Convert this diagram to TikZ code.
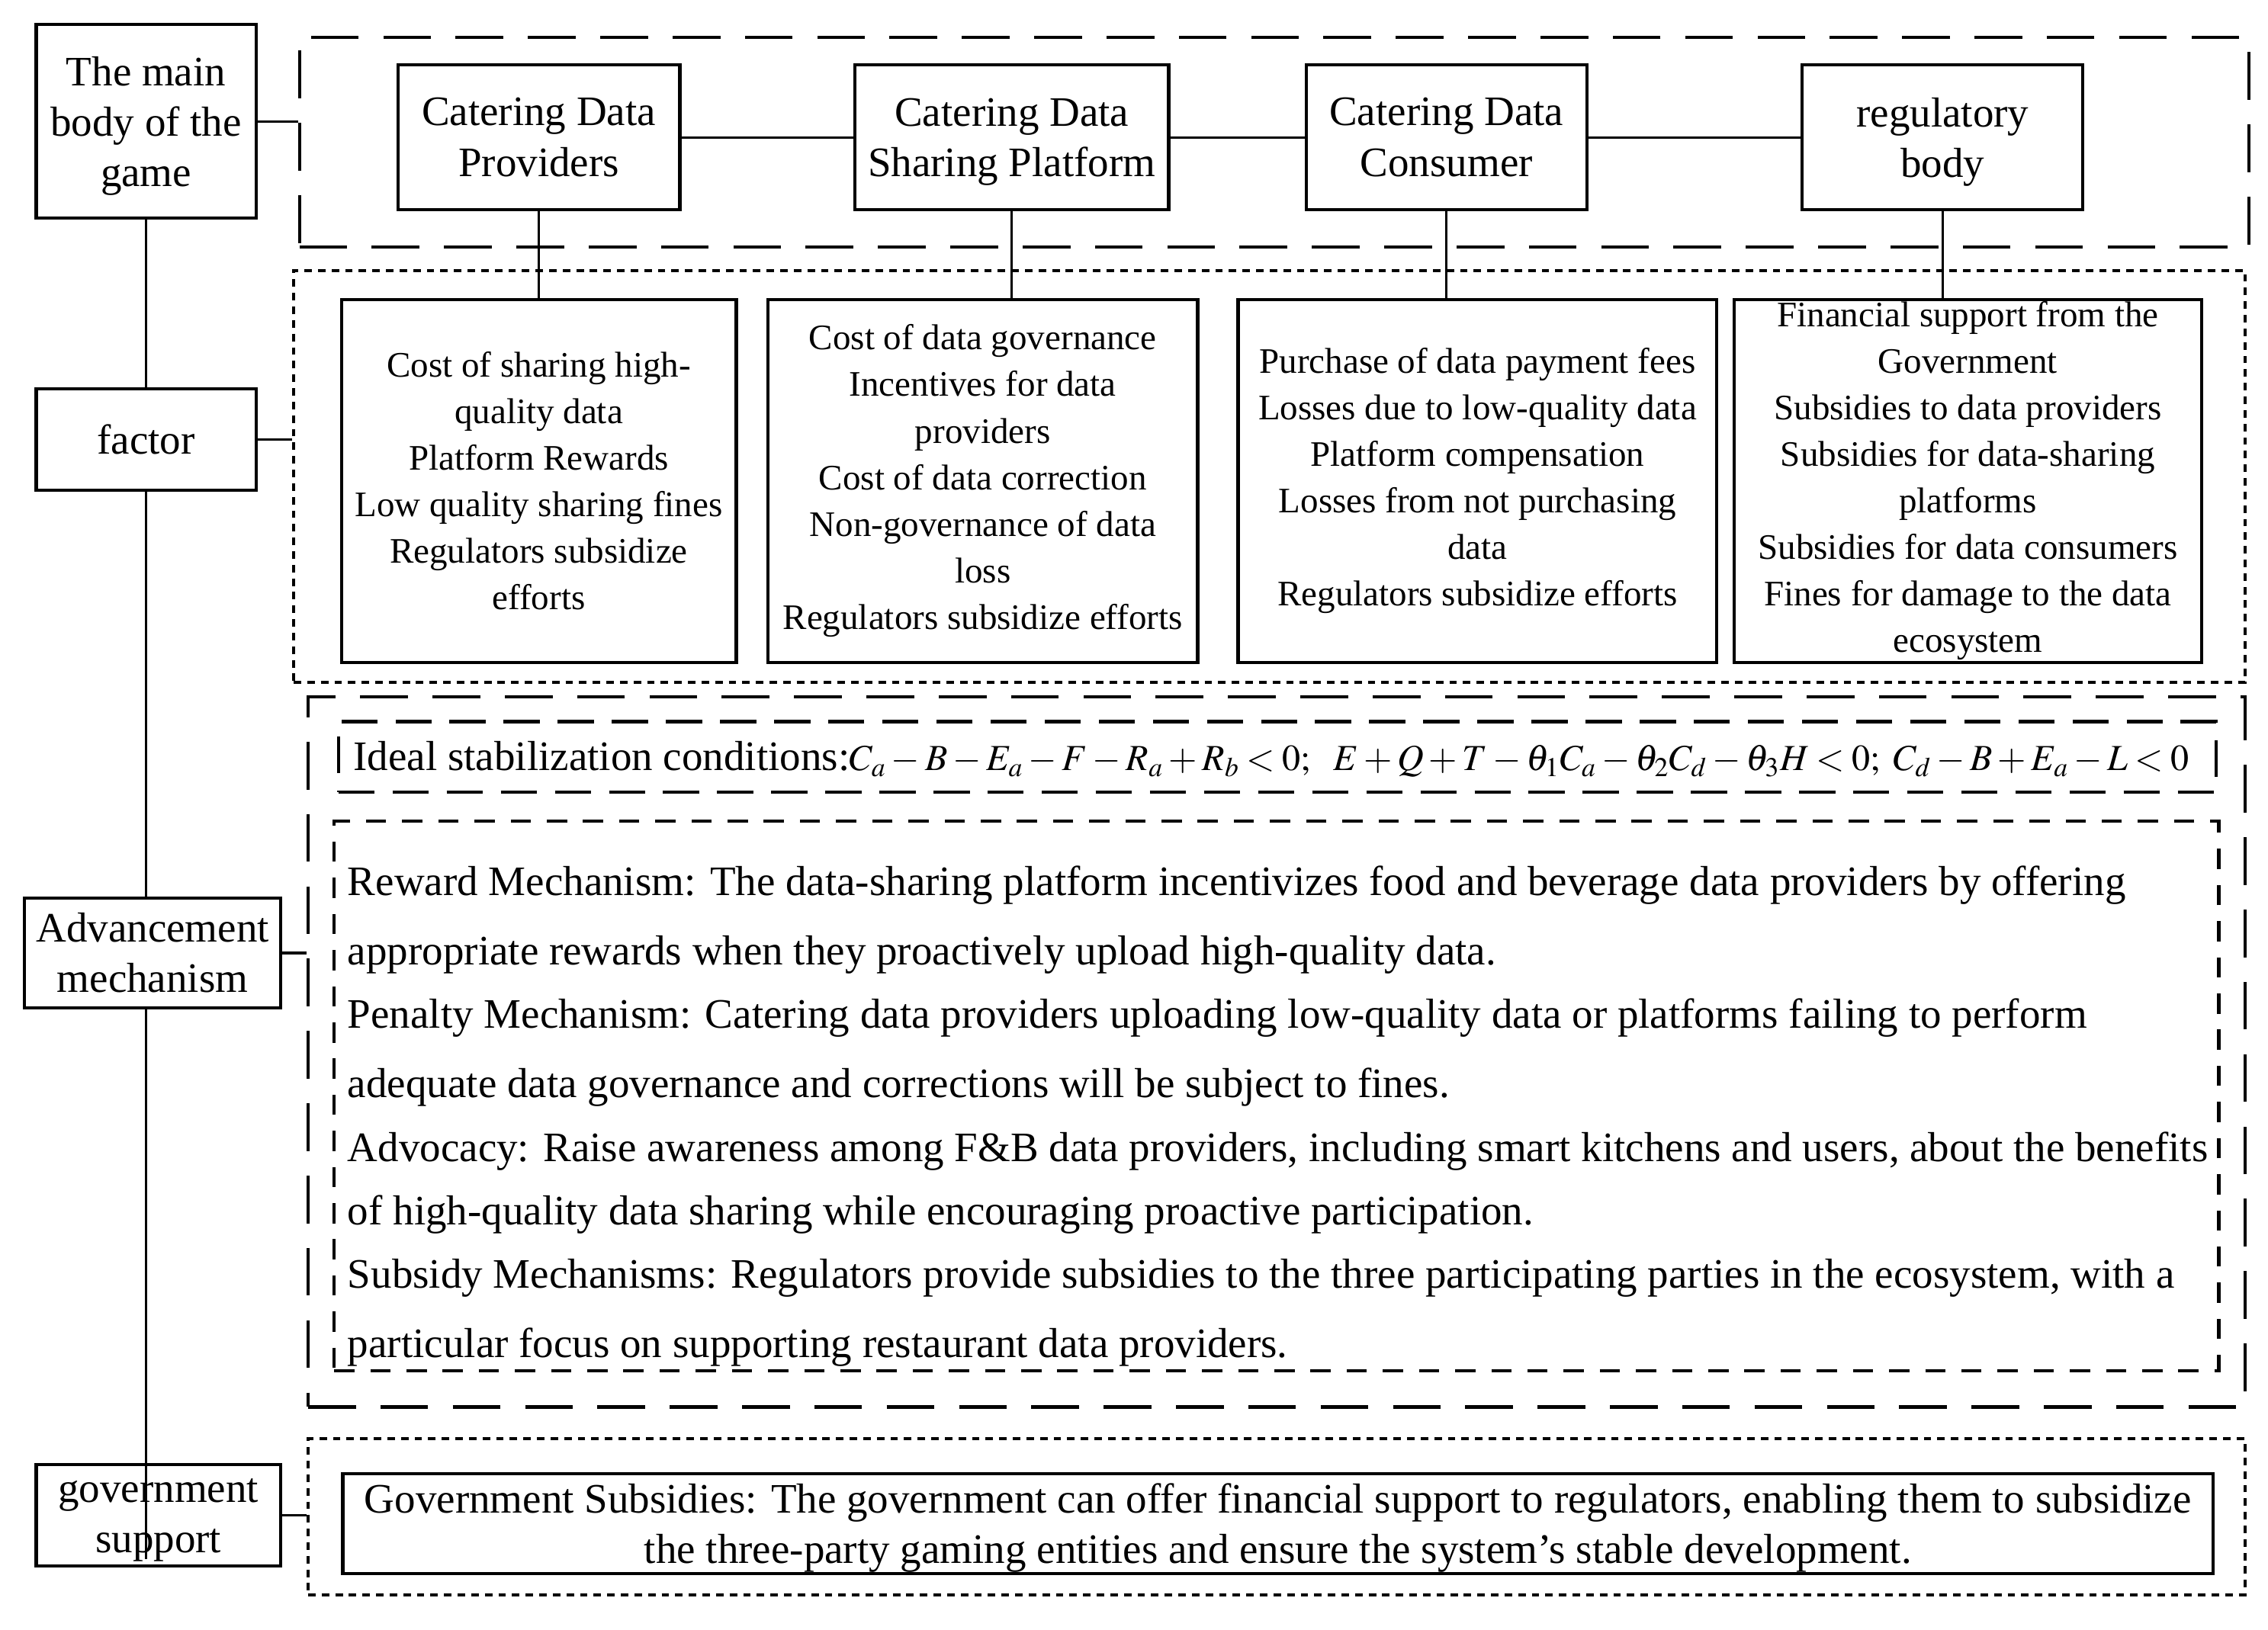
\documentclass[tikz,border=0pt]{standalone}
\usepackage{graphicx}
\usepackage{mathptmx}
\usepackage{fontspec}
\setmainfont{Liberation Serif}
\newcommand\fmain{\fontsize{14.5pt}{17.5pt}\selectfont}
\newcommand\fsmall{\fontsize{12.4pt}{16.1pt}\selectfont}
\newcommand\fmech{\fontsize{14.5pt}{18pt}\selectfont}
\newcommand\fform{\fontsize{13.8pt}{17pt}\selectfont}
\begin{document}
\begin{tikzpicture}[x=0.5pt,y=-0.5pt,
  box/.style={draw, line width=1.1pt, fill=white, inner sep=0pt, align=center, font=\fmain},
  fbox/.style={draw, line width=1.1pt, fill=white, inner sep=0pt, align=center, font=\fsmall,
     minimum height=125.5pt},
  topbox/.style={box, minimum height=50pt},
  conn/.style={line width=0.85pt},
  frame/.style={draw, line width=1.1pt, inner sep=0pt},
  frlong/.style={frame, dash pattern=on 16.5pt off 8.5pt},
  frmid/.style={frame, dash pattern=on 12.5pt off 6.2pt},
  frshort/.style={frame, dash pattern=on 7pt off 5.5pt},
  frdot/.style={frame, dash pattern=on 2.6pt off 2.1pt},
  mech/.style={anchor=base west, inner sep=0pt, font=\fmech}
]
\useasboundingbox (0,0) rectangle (1568,1127);

% group frames
\node[frlong, minimum width=674pt, minimum height=72.5pt] (frA) at (881,98.5) {};
\node[frdot, minimum width=674.5pt, minimum height=142.5pt] (frB) at (877.5,329.5) {};
\node[frlong, minimum width=669.5pt, minimum height=245.5pt] (frC) at (882.5,727.5) {};
\node[frmid, minimum width=649pt, minimum height=24.5pt] (frC1) at (883,523.5) {};
\node[frshort, minimum width=651.5pt, minimum height=190pt] (frC2) at (882.5,758) {};
\node[frdot, minimum width=669.5pt, minimum height=54pt] (frD) at (882.5,1049) {};

% left column
\node[box, minimum width=84.5pt, minimum height=35pt] (gov) at (109.5,1048) {government\\\smash{support}};
\coordinate (trunkend) at (101,1078);
\coordinate (trunktop) at (101,151);
\draw[conn] (trunktop) -- (trunkend);
\node[box, minimum width=76pt, minimum height=67pt] (main) at (101,84) {The main\\body of the\\\smash{game}};
\node[box, minimum width=76pt, minimum height=35pt] (factor) at (101,304) {factor};
\node[box, minimum width=88.5pt, minimum height=38pt] (adv) at (105.5,659) {Advancement\\mechanism};

\draw[conn] (main.east) -- (main.east -| frA.west);
\draw[conn] (factor.east) -- (factor.east -| frB.west);
\draw[conn] (adv.east) -- (adv.east -| frC.west);
\draw[conn] (gov.east) -- (gov.east -| frD.west);

% game bodies
\node[topbox, minimum width=97.5pt] (prov) at (372.5,95) {Catering Data\\Providers};
\node[topbox, minimum width=108.5pt] (plat) at (699.5,95) {Catering Data\\\smash{Sharing Platform}};
\node[topbox, minimum width=97pt] (cons) at (1000,95) {Catering Data\\Consumer};
\node[topbox, minimum width=97pt] (reg) at (1343,95) {regulatory\\\smash{body}};
\draw[conn] (prov.east) -- (plat.west);
\draw[conn] (plat.east) -- (cons.west);
\draw[conn] (cons.east) -- (reg.west);

% factor boxes
\node[fbox, minimum width=136.5pt] (f1) at (372.5,332.5) {Cost of sharing high-\\quality data\\Platform Rewards\\Low quality sharing fines\\Regulators subsidize\\efforts};
\node[fbox, minimum width=148.5pt] (f2) at (679.5,332.5) {Cost of data governance\\Incentives for data\\providers\\Cost of data correction\\Non-governance of data\\loss\\Regulators subsidize efforts};
\node[fbox, minimum width=165.5pt] (f3) at (1021.5,332.5) {Purchase of data payment fees\\Losses due to low-quality data\\Platform compensation\\Losses from not purchasing\\data\\Regulators subsidize efforts};
\node[fbox, minimum width=161.5pt] (f4) at (1360.5,332.5) {Financial support from the\\Government\\Subsidies to data providers\\Subsidies for data-sharing\\platforms\\Subsidies for data consumers\\Fines for damage to the data\\ecosystem};

\draw[conn] (prov.south) -- (prov.south |- f1.north);
\draw[conn] (plat.south) -- (plat.south |- f2.north);
\draw[conn] (cons.south) -- (cons.south |- f3.north);
\draw[conn] (reg.south) -- (reg.south |- f4.north);

% stabilization conditions
\node[anchor=base west, inner sep=0pt, font=\fmain] (cond) at (244,533)
  {Ideal stabilization conditions:\resizebox{463pt}{!}{\fform\medmuskip=2.5mu\thickmuskip=3.5mu$C_a - B - E_a - F - R_a + R_b < 0;\ \ E + Q + T - \theta_1 C_a - \theta_2 C_d - \theta_3 H < 0;\ C_d - B + E_a - L < 0$}};

% mechanisms
\node[mech] (m1) at (240,619) {Reward Mechanism: The data-sharing platform incentivizes food and beverage data providers by offering};
\node[mech] (m2) at (240,667) {appropriate rewards when they proactively upload high-quality data.};
\node[mech] (m3) at (240,711) {Penalty Mechanism: Catering data providers uploading low-quality data or platforms failing to perform};
\node[mech] (m4) at (240,759) {adequate data governance and corrections will be subject to fines.};
\node[mech] (m5) at (240,803) {Advocacy: Raise awareness among F\&B data providers, including smart kitchens and users, about the benefits};
\node[mech] (m6) at (240,847) {of high-quality data sharing while encouraging proactive participation.};
\node[mech] (m7) at (240,891) {Subsidy Mechanisms: Regulators provide subsidies to the three participating parties in the ecosystem, with a};
\node[mech] (m8) at (240,939) {particular focus on supporting restaurant data providers.};

% government support
\node[box, minimum width=646.5pt, minimum height=34.5pt] (govtext) at (883.5,1053.5)
  {Government Subsidies: The government can offer financial support to regulators, enabling them to subsidize\\\smash{the three-party gaming entities and ensure the system's stable development.}};
\end{tikzpicture}
\end{document}
